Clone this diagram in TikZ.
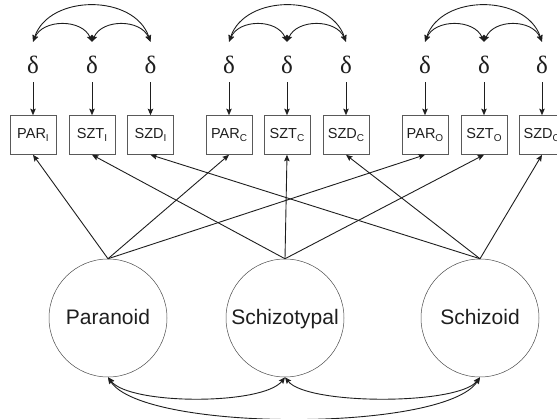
\documentclass[tikz,border=0pt]{standalone}
\usepackage{fontspec}
\setmainfont{Liberation Sans}
\newfontfamily\deltafont{Liberation Serif}
\usetikzlibrary{arrows.meta}
\definecolor{ink}{HTML}{1E1E1E}
\newcommand{\sbx}[1]{\raisebox{-2.5pt}{\fontsize{10}{10}\selectfont #1}}
\begin{document}
\begin{tikzpicture}[x=1pt,y=-1pt,
  tip/.style={-{Stealth[length=6.5pt,width=5.5pt,inset=1.2pt]}},
  dtip/.style={{Stealth[length=6.5pt,width=5.5pt,inset=1.2pt]}-{Stealth[length=6.5pt,width=5.5pt,inset=1.2pt]}},
  conn/.style={draw=ink,line width=0.9pt},
  obs/.style={draw=black!65,line width=0.6pt,minimum width=46pt,minimum height=39pt,inner sep=0pt,
    font=\fontsize{14.5}{16}\selectfont,text=ink},
  err/.style={inner sep=0pt,text height=32pt,text depth=8pt,anchor=base,
    font=\deltafont\fontsize{25}{25}\selectfont,text=ink},
  lat/.style={circle,draw=black!70,line width=0.5pt,minimum size=118pt,inner sep=0pt,
    text height=16pt,text depth=2pt,
    font=\fontsize{21}{24}\selectfont,text=ink}]
\useasboundingbox (0,0) rectangle (557,419);

% observed boxes
\node[obs] (b1) at (33,135) {PAR\sbx{I}};
\node[obs] (b2) at (92,135) {SZT\sbx{I}};
\node[obs] (b3) at (150.5,135) {SZD\sbx{I}};
\node[obs] (b4) at (229,135) {PAR\sbx{C}};
\node[obs] (b5) at (287,135) {SZT\sbx{C}};
\node[obs] (b6) at (346,135) {SZD\sbx{C}};
\node[obs] (b7) at (425,135) {PAR\sbx{O}};
\node[obs] (b8) at (484,135) {SZT\sbx{O}};
\node[obs] (b9) at (542,135) {SZD\sbx{O}};

% error terms
\foreach \i/\x in {1/33,2/92,3/150.5,4/229,5/287,6/346,7/425,8/484,9/542}{
  \node[err] (d\i) at (\x,74) {δ};
  \draw[conn,tip] (d\i.south) -- (b\i.north);
}

% error covariances
\foreach \a/\b/\c in {1/2/3,4/5/6,7/8/9}{
  \draw[conn,dtip] (d\a.north) .. controls +(10,-23) and +(-10,-23) .. (d\b.north);
  \draw[conn,dtip] (d\b.north) .. controls +(10,-23) and +(-10,-23) .. (d\c.north);
  \draw[conn,dtip] (d\a.north) .. controls +(16,-48) and +(-16,-48) .. (d\c.north);
}

% latent factors
\node[lat] (c1) at (108,318) {Paranoid};
\node[lat] (c2) at (285,318) {Schizotypal};
\node[lat] (c3) at (480,318) {Schizoid};

% loadings
\foreach \b in {1,4,7}{\draw[conn,tip] (c1.north) -- (b\b.south);}
\foreach \b in {2,5,8}{\draw[conn,tip] (c2.north) -- (b\b.south);}
\foreach \b in {3,6,9}{\draw[conn,tip] (c3.north) -- (b\b.south);}

% factor covariances
\draw[conn,dtip] (c1.south) .. controls +(22,28) and +(-22,28) .. (c2.south);
\draw[conn,dtip] (c2.south) .. controls +(22,28) and +(-22,28) .. (c3.south);
\draw[conn,dtip] (c1.south) .. controls +(35,55) and +(-35,55) .. (c3.south);
\end{tikzpicture}
\end{document}
